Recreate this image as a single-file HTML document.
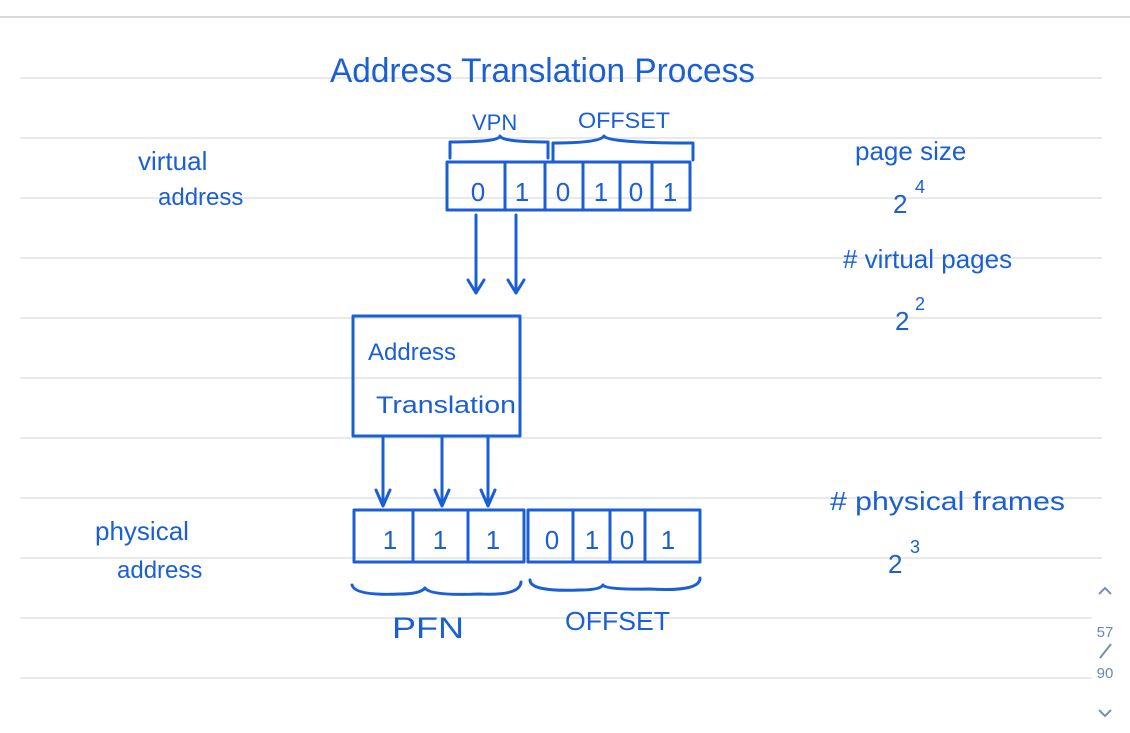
<!DOCTYPE html>
<html><head><meta charset="utf-8"><style>
html,body{margin:0;padding:0;background:#fff;}
svg{display:block;}
.h{font-family:"Liberation Sans",sans-serif;fill:#1a5fd6;}
</style></head><body>
<svg width="1130" height="733" viewBox="0 0 1130 733" xmlns="http://www.w3.org/2000/svg">
<rect width="1130" height="733" fill="#fff"/>
<line x1="0" y1="17" x2="1130" y2="17" stroke="#d8d8d8" stroke-width="2"/>
<g stroke="#e2e2e2" stroke-width="1.5">
<line x1="20" y1="78" x2="1102" y2="78"/><line x1="20" y1="138" x2="1102" y2="138"/>
<line x1="20" y1="198" x2="1102" y2="198"/><line x1="20" y1="258" x2="1102" y2="258"/>
<line x1="20" y1="318" x2="1102" y2="318"/><line x1="20" y1="378" x2="1102" y2="378"/>
<line x1="20" y1="438" x2="1102" y2="438"/><line x1="20" y1="498" x2="1102" y2="498"/>
<line x1="20" y1="558" x2="1102" y2="558"/><line x1="20" y1="618" x2="1092" y2="618"/>
<line x1="20" y1="678" x2="1092" y2="678"/>
</g>
<g class="h">
<text x="330" y="82" font-size="34" textLength="425" lengthAdjust="spacingAndGlyphs">Address Translation Process</text>
<text x="472" y="130" font-size="22">VPN</text>
<text x="578" y="128" font-size="22" textLength="92" lengthAdjust="spacingAndGlyphs">OFFSET</text>
<text x="138" y="170" font-size="26">virtual</text>
<text x="158" y="205" font-size="24">address</text>
<text x="855" y="160" font-size="26">page size</text>
<text x="893" y="213" font-size="26">2</text><text x="915" y="193" font-size="18">4</text>
<text x="843" y="268" font-size="26"># virtual pages</text>
<text x="895" y="330" font-size="26">2</text><text x="915" y="310" font-size="18">2</text>
<text x="368" y="360" font-size="24">Address</text>
<text x="376" y="413" font-size="24" textLength="140" lengthAdjust="spacingAndGlyphs">Translation</text>
<text x="95" y="540" font-size="26">physical</text>
<text x="117" y="578" font-size="24">address</text>
<text x="830" y="510" font-size="26" textLength="235" lengthAdjust="spacingAndGlyphs"># physical frames</text>
<text x="888" y="573" font-size="26">2</text><text x="910" y="553" font-size="18">3</text>
<text x="392" y="638" font-size="30" textLength="72" lengthAdjust="spacingAndGlyphs">PFN</text>
<text x="565" y="630" font-size="26" textLength="105" lengthAdjust="spacingAndGlyphs">OFFSET</text>
</g>
<g class="h" font-size="26" text-anchor="middle">
<text x="478" y="201">0</text><text x="522" y="201">1</text><text x="563" y="201">0</text>
<text x="601" y="201">1</text><text x="636" y="201">0</text><text x="670" y="201">1</text>
<text x="390" y="549">1</text><text x="440" y="549">1</text><text x="493" y="549">1</text>
<text x="552" y="549">0</text><text x="592" y="549">1</text><text x="627" y="549">0</text><text x="668" y="549">1</text>
</g>
<g fill="none" stroke="#1a5fd6" stroke-width="3" stroke-linecap="round" stroke-linejoin="round">
<rect x="447" y="162" width="243" height="48"/>
<path d="M505 163V210M545 163V210M583 163V210M620 163V210M652 163V210"/>
<path d="M450 158V142Q500 142 500 136Q502 142 548 142V158"/>
<path d="M553 160V143Q600 143 604 136Q608 143 693 143V160"/>
<path d="M476 215V292M468 280L476 293L484 280M516 215V292M508 280L516 293L524 280"/>
<rect x="353" y="316" width="167" height="120"/>
<path d="M383 438V505M376 490L383 506L390 490M442 438V505M435 490L442 506L449 490M488 438V505M481 490L488 506L495 490"/>
<rect x="354" y="510" width="170" height="52"/>
<path d="M413 510V562M468 510V562"/>
<rect x="528" y="510" width="172" height="52"/>
<path d="M573 510V562M610 510V562M645 510V562"/>
<path d="M352 585Q355 596 400 594Q420 594 425 588Q430 596 480 594Q520 596 521 582"/>
<path d="M530 580Q530 592 580 590Q600 590 603 585Q606 590 650 589Q700 592 700 578"/>
</g>
<g stroke="#7a8fb0" stroke-width="2" fill="none">
<path d="M1099 594L1105 588L1111 594"/><path d="M1099 710L1105 716L1111 710"/>
<path d="M1100 658L1111 644"/>
</g>
<text x="1105" y="637" font-size="15" text-anchor="middle" fill="#6f86ad" font-family="Liberation Sans,sans-serif">57</text>
<text x="1105" y="678" font-size="15" text-anchor="middle" fill="#6f86ad" font-family="Liberation Sans,sans-serif">90</text>
</svg>
</body></html>
